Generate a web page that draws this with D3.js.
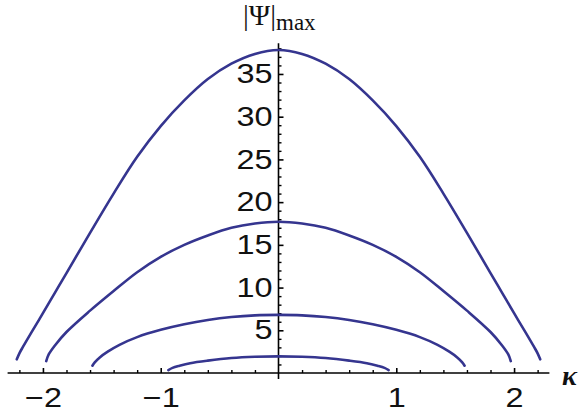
<!DOCTYPE html>
<html>
<head>
<meta charset="utf-8">
<script src="https://cdn.jsdelivr.net/npm/d3@7"></script>
<style>
  html, body { margin: 0; padding: 0; background: #fff; }
  svg { display: block; }
  .tick text { font-family: "Liberation Sans", Arial, sans-serif; font-size: 27px; fill: #111; }
</style>
</head>
<body>
<svg id="chart" width="578" height="416"></svg>
<script>
// κ samples and |Ψ|max values for each of the four branches
const kappaA = [-2.222, -2.2, -2.17, -2.1, -2.0, -1.9, -1.8, -1.6, -1.4, -1.2, -1.0, -0.8, -0.6, -0.4, -0.2, 0,
                0.2, 0.4, 0.6, 0.8, 1.0, 1.2, 1.4, 1.6, 1.8, 1.9, 2.0, 2.1, 2.17, 2.2, 2.222];
const psiA   = [1.6, 2.3, 3.05, 4.7, 7.0, 9.35, 11.7, 16.4, 21.0, 25.3, 28.9, 31.9, 34.4, 36.2, 37.35, 37.8,
                37.35, 36.2, 34.4, 31.9, 28.9, 25.3, 21.0, 16.4, 11.7, 9.35, 7.0, 4.7, 3.05, 2.3, 1.6];

const kappaB = [-1.972, -1.95, -1.9, -1.8, -1.6, -1.4, -1.2, -1.0, -0.8, -0.6, -0.4, -0.2, 0,
                0.2, 0.4, 0.6, 0.8, 1.0, 1.2, 1.4, 1.6, 1.8, 1.9, 1.95, 1.972];
const psiB   = [1.4, 2.2, 3.2, 4.8, 7.3, 9.6, 11.8, 13.6, 15.0, 16.1, 17.0, 17.5, 17.7,
                17.5, 17.0, 16.1, 15.0, 13.6, 11.8, 9.6, 7.3, 4.8, 3.2, 2.2, 1.4];

const kappaC = [-1.58, -1.56, -1.52, -1.45, -1.35, -1.2, -1.0, -0.8, -0.6, -0.4, -0.2, 0,
                0.2, 0.4, 0.6, 0.8, 1.0, 1.2, 1.35, 1.45, 1.52, 1.56, 1.58];
const psiC   = [0.85, 1.25, 1.8, 2.5, 3.3, 4.2, 5.05, 5.7, 6.2, 6.55, 6.75, 6.8,
                6.75, 6.55, 6.2, 5.7, 5.05, 4.2, 3.3, 2.5, 1.8, 1.25, 0.85];

const kappaD = [-0.935, -0.9, -0.84, -0.75, -0.6, -0.4, -0.2, 0, 0.2, 0.4, 0.6, 0.75, 0.84, 0.9, 0.935];
const psiD   = [0.35, 0.6, 0.85, 1.15, 1.45, 1.75, 1.9, 1.95, 1.9, 1.75, 1.45, 1.15, 0.85, 0.6, 0.35];

const xMajorTicks = [-2, -1, 1, 2];
const yMajorTicks = [5, 10, 15, 20, 25, 30, 35];

const branches = [
  { k: kappaA, v: psiA },
  { k: kappaB, v: psiB },
  { k: kappaC, v: psiC },
  { k: kappaD, v: psiD }
];

const svg = d3.select("#chart");

const x = d3.scaleLinear().domain([-2.3, 2.3]).range([7.6, 549.4]);
const y = d3.scaleLinear().domain([-0.7, 38.6]).range([379, 43.2]);

const x0 = x(0), y0 = y(0);

// minor ticks every 0.2 on κ, every 1 on |Ψ|
const xMinor = d3.range(-11, 12).filter(i => i % 5 !== 0).map(i => i / 5);
const yMinor = d3.range(1, 39).filter(v => v % 5 !== 0);

const stretch = "scale(1.2,1)";

// horizontal axis
const gx = svg.append("g").attr("transform", `translate(0,${y0})`);
gx.append("line")
  .attr("x1", x.range()[0]).attr("x2", x.range()[1])
  .attr("stroke", "#000").attr("stroke-width", 1.6);
gx.append("g")
  .call(d3.axisBottom(x).tickValues(xMinor).tickSize(-3).tickFormat(""))
  .call(g => g.select(".domain").remove())
  .call(g => g.selectAll("line").attr("stroke", "#000").attr("stroke-width", 1.4));
gx.append("g")
  .call(d3.axisBottom(x).tickValues(xMajorTicks).tickSize(-5).tickPadding(15).tickFormat(d3.format("d")))
  .call(g => g.select(".domain").remove())
  .call(g => g.selectAll("line").attr("stroke", "#000").attr("stroke-width", 1.6))
  .call(g => g.selectAll("text").attr("transform", stretch));

// vertical axis
const gy = svg.append("g").attr("transform", `translate(${x0},0)`);
gy.append("line")
  .attr("y1", y.range()[0]).attr("y2", y.range()[1])
  .attr("stroke", "#000").attr("stroke-width", 1.6);
gy.append("g")
  .call(d3.axisLeft(y).tickValues(yMinor).tickSize(-3).tickFormat(""))
  .call(g => g.select(".domain").remove())
  .call(g => g.selectAll("line").attr("stroke", "#000").attr("stroke-width", 1.4));
gy.append("g")
  .call(d3.axisLeft(y).tickValues(yMajorTicks).tickSize(-5).tickPadding(5).tickFormat(d3.format("d")))
  .call(g => g.select(".domain").remove())
  .call(g => g.selectAll("line").attr("stroke", "#000").attr("stroke-width", 1.6))
  .call(g => g.selectAll("text").attr("transform", stretch));

// branches
const line = d3.line()
  .x(d => x(d[0]))
  .y(d => y(d[1]))
  .curve(d3.curveCatmullRom.alpha(0.5));

svg.append("g")
  .selectAll("path")
  .data(branches)
  .join("path")
  .attr("d", b => line(b.k.map((kv, i) => [kv, b.v[i]])))
  .attr("fill", "none")
  .attr("stroke", "#35358f")
  .attr("stroke-width", 2.6)
  .attr("stroke-linecap", "round");

// axis titles
const yTitle = svg.append("text")
  .attr("x", 243).attr("y", 25)
  .attr("font-family", "'Liberation Serif', 'Times New Roman', serif")
  .attr("fill", "#111");
yTitle.append("tspan").attr("font-size", 29).text("|Ψ|");
yTitle.append("tspan").attr("font-size", 23).attr("dy", 5).text("max");

svg.append("text")
  .attr("x", 562).attr("y", 385)
  .attr("font-family", "'Liberation Serif', 'Times New Roman', serif")
  .attr("font-size", 28)
  .attr("font-style", "italic")
  .attr("font-weight", "bold")
  .attr("fill", "#111")
  .text("κ");
</script>
</body>
</html>
